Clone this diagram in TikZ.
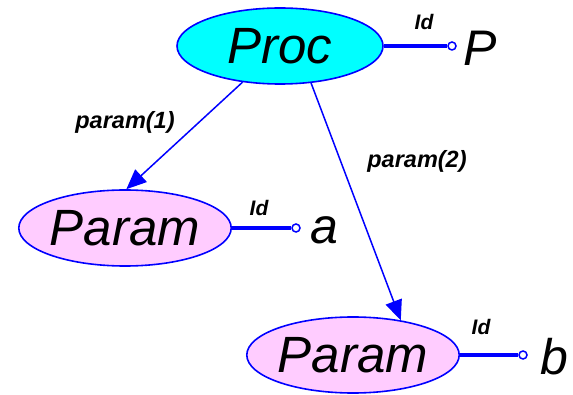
\documentclass[tikz,border=0pt]{standalone}
\usepackage{fontspec}
\setmainfont{Liberation Sans}
\usetikzlibrary{shapes.geometric,arrows.meta}
\definecolor{linkblue}{RGB}{0,0,255}
\definecolor{procfill}{RGB}{0,255,255}
\definecolor{paramfill}{RGB}{255,204,255}
\tikzset{
  entity/.style={ellipse, draw=linkblue, line width=1.6pt, inner sep=0pt,
    minimum width=206pt, minimum height=76pt,
    font=\fontsize{51}{51}\selectfont\itshape},
  relation/.style={draw=linkblue, line width=1.5pt,
    -{Triangle[length=20pt,width=17pt]}},
  idline/.style={draw=linkblue, line width=3.5pt},
  pin end/.style={circle, draw=linkblue, fill=white, line width=1.5pt,
    inner sep=0pt, minimum size=8pt},
  value/.style={font=\fontsize{50}{50}\selectfont\itshape, inner sep=0pt},
  tag/.style={font=\fontsize{21}{21}\selectfont\bfseries\itshape, inner sep=0pt},
  edgelabel/.style={font=\fontsize{23.5}{24}\selectfont\bfseries\itshape, inner sep=0pt}
}
\begin{document}
\begin{tikzpicture}[x=1pt,y=-1pt]
  \useasboundingbox (0,0) rectangle (573,395);

  % entities
  \node[entity, fill=procfill]  (proc) at (280,46)  {Proc};
  \node[entity, fill=paramfill] (p1)   at (125,228) {Param};
  \node[entity, fill=paramfill] (p2)   at (353,355) {Param};

  % identifier attributes
  \node[pin end] (procid) at (452,46) {};
  \node[pin end] (p1id)   at (296,228) {};
  \node[pin end] (p2id)   at (523,355) {};
  \draw[idline] (proc.east) -- (procid.west);
  \draw[idline] (p1.east)   -- (p1id.west);
  \draw[idline] (p2.east)   -- (p2id.west);
  \node[tag] (tproc) at (424,22)  {Id};
  \node[tag] (tp1)   at (259,208) {Id};
  \node[tag] (tp2)   at (481,327) {Id};
  \node[value, anchor=west] (vP) at (463,48)  {P};
  \node[value, anchor=west] (va) at (310,230) {a};
  \node[value, anchor=west] (vb) at (540,357) {b};

  % parameter relations
  \draw[relation] (proc.-136) -- (p1.88);
  \draw[relation] (proc.-50)  -- (p2.36);
  \node[edgelabel] (l1) at (125,122) {param(1)};
  \node[edgelabel] (l2) at (417,161) {param(2)};
\end{tikzpicture}
\end{document}
